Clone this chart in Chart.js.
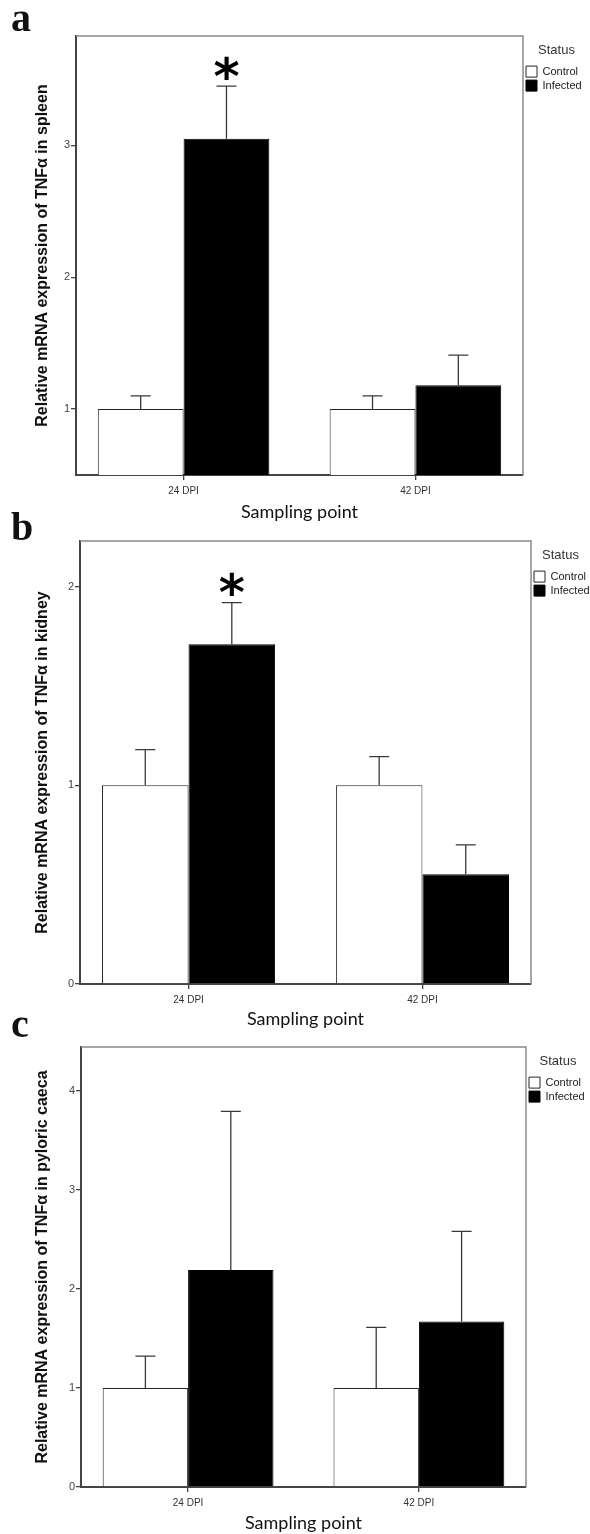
<!DOCTYPE html>
<html>
<head>
<meta charset="utf-8">
<script src="https://cdn.jsdelivr.net/npm/chart.js@4.4.1/dist/chart.umd.min.js"></script>
<style>
  body { margin: 0; background: #fff; width: 590px; height: 1534px; position: relative; overflow: hidden; }
  canvas { position: absolute; left: 0; }
  .tag { position: absolute; left: 11px; font: bold 40px "Liberation Serif", "Times New Roman", serif; line-height: 1; color: #111; }
</style>
</head>
<body>
<canvas id="chartA" width="590" height="530" style="top:0"></canvas>
<canvas id="chartB" width="590" height="530" style="top:505px"></canvas>
<canvas id="chartC" width="590" height="524" style="top:1010px"></canvas>
<div class="tag" style="top:-2px">a</div>
<div class="tag" style="top:507px">b</div>
<div class="tag" style="top:1004px">c</div>
<script>
const categories = ['24 DPI', '42 DPI'];
const groups = ['Control', 'Infected'];

// a - spleen (bar = mean, err = top of error bar)
const spleenControl = [1.00, 1.00];
const spleenControlErr = [1.10, 1.10];
const spleenInfected = [3.05, 1.18];
const spleenInfectedErr = [3.45, 1.41];
const spleenMarks = ['*', ''];
const spleenTicks = [1, 2, 3];

// b - kidney
const kidneyControl = [1.00, 1.00];
const kidneyControlErr = [1.18, 1.145];
const kidneyInfected = [1.71, 0.553];
const kidneyInfectedErr = [1.92, 0.70];
const kidneyMarks = ['*', ''];
const kidneyTicks = [0, 1, 2];

// c - pyloric caeca
const caecaControl = [1.00, 1.00];
const caecaControlErr = [1.32, 1.61];
const caecaInfected = [2.19, 1.67];
const caecaInfectedErr = [3.79, 2.58];
const caecaMarks = ['', ''];
const caecaTicks = [0, 1, 2, 3, 4];

const sans = 'Liberation Sans';

// frame, error bars and significance stars
const extras = {
  id: 'extras',
  afterDatasetsDraw(chart) {
    const { ctx, chartArea: area, scales: { y } } = chart;
    ctx.save();
    ctx.strokeStyle = '#8a8a8a';
    ctx.lineWidth = 1.5;
    ctx.beginPath();
    ctx.moveTo(area.left, area.top);
    ctx.lineTo(area.right, area.top);
    ctx.lineTo(area.right, area.bottom);
    ctx.stroke();

    chart.data.datasets.forEach((ds, i) => {
      chart.getDatasetMeta(i).data.forEach((bar, j) => {
        const top = y.getPixelForValue(ds.errTop[j]);
        ctx.strokeStyle = '#3a3a3a';
        ctx.lineWidth = 1.3;
        ctx.beginPath();
        ctx.moveTo(bar.x, bar.y);
        ctx.lineTo(bar.x, top);
        ctx.moveTo(bar.x - 10, top);
        ctx.lineTo(bar.x + 10, top);
        ctx.stroke();
        if (ds.marks && ds.marks[j]) {
          ctx.fillStyle = '#000';
          ctx.font = 'bold 50px "DejaVu Sans"';
          ctx.textAlign = 'center';
          ctx.textBaseline = 'alphabetic';
          const m = ctx.measureText(ds.marks[j]);
          const cy = top - 18.5;
          ctx.fillText(ds.marks[j], bar.x, cy + (m.actualBoundingBoxAscent - m.actualBoundingBoxDescent) / 2);
        }
      });
    });
    ctx.restore();
  }
};

function makePanel(id, p) {
  new Chart(document.getElementById(id), {
    type: 'bar',
    data: {
      datasets: [
        {
          label: groups[0],
          data: p.control.map((v, i) => ({ x: i, y: v })),
          errTop: p.controlErr,
          backgroundColor: '#ffffff',
          borderColor: '#262626',
          borderWidth: 1
        },
        {
          label: groups[1],
          data: p.infected.map((v, i) => ({ x: i, y: v })),
          errTop: p.infectedErr,
          marks: p.marks,
          backgroundColor: '#000000',
          borderColor: '#000000',
          borderWidth: 1
        }
      ]
    },
    options: {
      responsive: false,
      animation: false,
      layout: { padding: { top: p.top, left: 0, right: 0, bottom: 0 } },
      datasets: { bar: { categoryPercentage: 0.74, barPercentage: 1 } },
      plugins: {
        tooltip: { enabled: false },
        legend: {
          position: 'right',
          align: 'start',
          maxWidth: p.legendW,
          title: {
            display: true,
            text: 'Status',
            color: '#333',
            font: { family: sans, size: 13 },
            padding: { top: 7.5, bottom: 4 }
          },
          labels: {
            boxWidth: 11,
            boxHeight: 11,
            padding: 3,
            color: '#222',
            font: { family: sans, size: 11 }
          }
        }
      },
      scales: {
        x: {
          type: 'linear',
          offset: false,
          min: -0.464,
          max: 1.464,
          afterBuildTicks: s => { s.ticks = categories.map((c, i) => ({ value: i })); },
          afterFit: s => { s.height = p.xAxisH; },
          ticks: {
            callback: v => categories[v],
            color: '#333',
            font: { family: sans, size: 10 },
            padding: 5,
            autoSkip: false,
            maxRotation: 0
          },
          grid: { offset: false, drawOnChartArea: false, tickLength: 5, color: '#444', lineWidth: 1.3 },
          border: { color: '#444', width: 2 },
          title: {
            display: true,
            text: 'Sampling point',
            color: '#111',
            font: { family: 'Lato', size: 18 },
            padding: { top: 0, bottom: p.titlePad }
          }
        },
        y: {
          min: p.min,
          max: p.max,
          afterBuildTicks: s => { s.ticks = p.ticks.map(v => ({ value: v })); },
          afterFit: s => { s.width = p.left; },
          ticks: { color: '#444', font: { family: sans, size: 11 }, padding: 1 },
          grid: { drawOnChartArea: false, tickLength: 5, color: '#444', lineWidth: 1.3 },
          border: { color: '#444', width: 2 },
          title: {
            display: true,
            text: p.yTitle,
            color: '#111',
            font: { family: sans, size: 16, weight: 'bold' },
            padding: { top: 33, bottom: 0 }
          }
        }
      }
    },
    plugins: [extras]
  });
}

makePanel('chartA', {
  control: spleenControl, controlErr: spleenControlErr,
  infected: spleenInfected, infectedErr: spleenInfectedErr,
  marks: spleenMarks, ticks: spleenTicks,
  min: 0.5, max: 3.83,
  yTitle: 'Relative mRNA expression of TNFα in spleen',
  top: 36, left: 76, xAxisH: 55, legendW: 67, titlePad: 7
});

makePanel('chartB', {
  control: kidneyControl, controlErr: kidneyControlErr,
  infected: kidneyInfected, infectedErr: kidneyInfectedErr,
  marks: kidneyMarks, ticks: kidneyTicks,
  min: 0, max: 2.23,
  yTitle: 'Relative mRNA expression of TNFα in kidney',
  top: 36, left: 80, xAxisH: 51, legendW: 59, titlePad: 5
});

makePanel('chartC', {
  control: caecaControl, controlErr: caecaControlErr,
  infected: caecaInfected, infectedErr: caecaInfectedErr,
  marks: caecaMarks, ticks: caecaTicks,
  min: 0, max: 4.44,
  yTitle: 'Relative mRNA expression of TNFα in pyloric caeca',
  top: 37, left: 81, xAxisH: 47, legendW: 64, titlePad: 0
});
</script>
</body>
</html>
